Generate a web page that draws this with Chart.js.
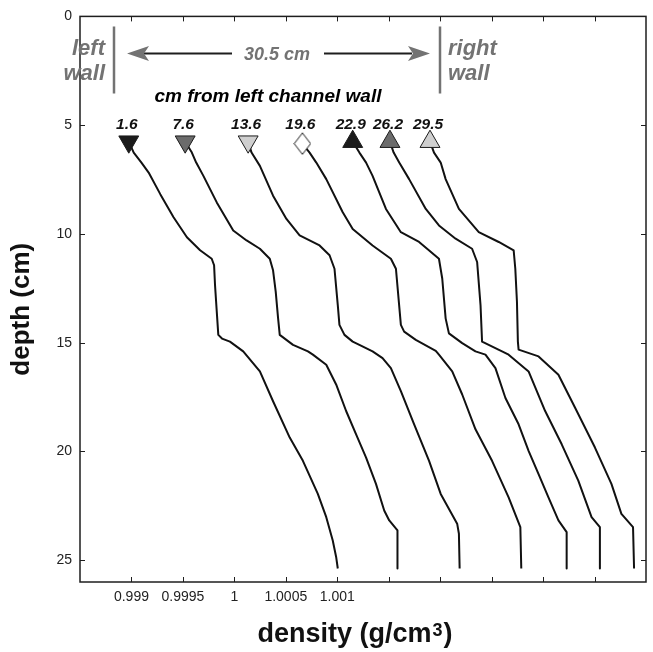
<!DOCTYPE html>
<html>
<head>
<meta charset="utf-8">
<title>density profiles</title>
<script src="https://cdn.jsdelivr.net/npm/chart.js"></script>
<style>
  html, body { margin: 0; padding: 0; background: #fff; }
  canvas { display: block; }
</style>
</head>
<body>
<canvas id="profiles" width="653" height="652"></canvas>
<script>
// distance of each profile from the left channel wall (cm)
const stations = ['1.6', '7.6', '13.6', '19.6', '22.9', '26.2', '29.5'];

// density (g/cm3) vs depth (cm), one pair of arrays per profile
const rho_1_6 = [0.998974, 0.999022, 0.999097, 0.999167, 0.999280, 0.999409, 0.999539, 0.999667, 0.999780, 0.999803, 0.999812, 0.999829, 0.999844, 0.999880, 0.999957, 1.000086, 1.000248, 1.000376, 1.000538, 1.000666, 1.000811, 1.000893, 1.000956, 1.000989, 1.001005];
const depth_1_6 = [5.76, 6.26, 6.72, 7.18, 8.17, 9.23, 10.15, 10.75, 11.14, 11.44, 12.35, 13.57, 14.64, 14.81, 14.95, 15.40, 16.32, 17.69, 19.36, 20.43, 21.95, 23.02, 24.09, 24.85, 25.38];

const rho_7_6 = [0.999522, 0.999587, 0.999629, 0.999699, 0.999829, 0.999989, 1.000119, 1.000248, 1.000344, 1.000376, 1.000402, 1.000425, 1.000441, 1.000570, 1.000715, 1.000763, 1.000893, 1.000989, 1.001086, 1.001183, 1.001280, 1.001376, 1.001456, 1.001505, 1.001585, 1.001585];
const depth_7_6 = [5.76, 6.26, 6.72, 7.33, 8.55, 9.84, 10.30, 10.68, 11.14, 11.67, 12.66, 13.88, 14.64, 15.10, 15.40, 15.55, 16.01, 16.92, 18.14, 19.21, 20.28, 21.49, 22.71, 23.17, 23.63, 25.38];

const rho_13_6 = [1.000134, 1.000167, 1.000248, 1.000376, 1.000506, 1.000634, 1.000828, 1.000925, 1.000973, 1.001005, 1.001021, 1.001070, 1.001150, 1.001215, 1.001343, 1.001440, 1.001521, 1.001618, 1.001747, 1.001892, 1.002005, 1.002165, 1.002182, 1.002189];
const depth_13_6 = [5.76, 6.26, 6.87, 8.24, 9.31, 10.07, 10.53, 10.98, 11.60, 13.27, 14.18, 14.64, 14.95, 15.10, 15.40, 15.71, 16.17, 17.23, 18.75, 20.43, 21.95, 23.32, 23.78, 25.38];

const rho_19_6 = [1.000661, 1.000731, 1.000796, 1.000893, 1.001053, 1.001150, 1.001343, 1.001521, 1.001570, 1.001618, 1.001650, 1.001763, 1.001957, 1.001988, 1.002117, 1.002214, 1.002343, 1.002504, 1.002665, 1.002779, 1.002788];
const depth_19_6 = [5.85, 6.26, 6.72, 7.48, 9.00, 9.77, 10.53, 11.14, 11.60, 14.18, 14.49, 14.87, 15.37, 15.55, 16.32, 17.38, 18.98, 20.43, 22.11, 23.48, 25.38];

const rho_22_9 = [1.001150, 1.001215, 1.001280, 1.001343, 1.001473, 1.001618, 1.001795, 1.001988, 1.002020, 1.002053, 1.002085, 1.002214, 1.002343, 1.002440, 1.002537, 1.002634, 1.002762, 1.002859, 1.002956, 1.003052, 1.003149, 1.003229, 1.003229];
const depth_22_9 = [5.76, 6.26, 6.72, 7.33, 8.85, 9.92, 10.37, 11.14, 12.05, 13.88, 14.57, 15.02, 15.40, 15.55, 16.17, 17.54, 18.75, 19.97, 21.04, 22.11, 23.17, 23.71, 25.38];

const rho_26_2 = [1.001512, 1.001548, 1.001602, 1.001698, 1.001860, 1.001988, 1.002150, 1.002310, 1.002359, 1.002392, 1.002407, 1.002601, 1.002665, 1.002859, 1.003020, 1.003181, 1.003342, 1.003471, 1.003552, 1.003552];
const depth_26_2 = [5.76, 6.26, 6.72, 7.48, 8.85, 9.61, 10.22, 10.68, 11.29, 13.27, 14.95, 15.40, 15.55, 16.32, 18.14, 19.67, 21.34, 23.02, 23.48, 25.38];

const rho_29_5 = [1.001901, 1.001940, 1.002005, 1.002053, 1.002182, 1.002375, 1.002569, 1.002714, 1.002730, 1.002746, 1.002755, 1.002762, 1.002956, 1.003149, 1.003311, 1.003504, 1.003664, 1.003761, 1.003874, 1.003884];
const depth_29_5 = [5.76, 6.26, 6.72, 7.48, 8.85, 9.92, 10.37, 10.75, 11.60, 13.12, 14.95, 15.32, 15.63, 16.47, 17.99, 19.82, 21.49, 22.87, 23.48, 25.38];

// axis ticks
const xTicks = [0.999, 0.9995, 1, 1.0005, 1.001];
const yTicks = [0, 5, 10, 15, 20, 25];

const profiles = [
  [rho_1_6, depth_1_6], [rho_7_6, depth_7_6], [rho_13_6, depth_13_6], [rho_19_6, depth_19_6],
  [rho_22_9, depth_22_9], [rho_26_2, depth_26_2], [rho_29_5, depth_29_5]
];

const FONT = "'Liberation Sans', Arial, Helvetica, sans-serif";
const GREY = '#737373';
const markerFill = ['#1b1b1b', '#6b6b6b', '#cfcfcf', '#ffffff', '#1b1b1b', '#6b6b6b', '#cfcfcf'];

// tall open diamond for the middle profile
const diamond = document.createElement('canvas');
diamond.width = 18; diamond.height = 23;
(function () {
  const d = diamond.getContext('2d');
  d.beginPath();
  d.moveTo(9, 0.8); d.lineTo(17.2, 11.5); d.lineTo(9, 22.2); d.lineTo(0.8, 11.5);
  d.closePath();
  d.fillStyle = '#fff'; d.fill();
  d.strokeStyle = '#1b1b1b'; d.lineWidth = 1; d.stroke();
})();

function arrowHead(ctx, tipX, yy, dir) {
  // barbed head, dir -1 points left, +1 points right
  ctx.beginPath();
  ctx.moveTo(tipX, yy);
  ctx.lineTo(tipX - dir * 22, yy - 7.5);
  ctx.lineTo(tipX - dir * 17, yy);
  ctx.lineTo(tipX - dir * 22, yy + 7.5);
  ctx.closePath();
  ctx.fill();
}

const decorations = {
  id: 'decorations',
  afterDraw(chart) {
    const { ctx, chartArea: a, scales: { x, y } } = chart;
    ctx.save();

    // box round the plot
    ctx.strokeStyle = '#1e1e1e';
    ctx.lineWidth = 1.5;
    ctx.strokeRect(a.left, a.top, a.right - a.left, a.bottom - a.top);

    // inward ticks on every side
    ctx.lineWidth = 1;
    ctx.beginPath();
    x.ticks.forEach(t => {
      if (t.value <= x.min + 1e-9 || t.value >= x.max - 1e-9) return;
      const px = Math.round(x.getPixelForValue(t.value)) + 0.5;
      ctx.moveTo(px, a.bottom); ctx.lineTo(px, a.bottom - 5);
      ctx.moveTo(px, a.top); ctx.lineTo(px, a.top + 5);
    });
    y.ticks.forEach(t => {
      if (t.value <= y.min || t.value >= y.max) return;
      const py = Math.round(y.getPixelForValue(t.value)) + 0.5;
      ctx.moveTo(a.left, py); ctx.lineTo(a.left + 5, py);
      ctx.moveTo(a.right, py); ctx.lineTo(a.right - 5, py);
    });
    ctx.stroke();

    // channel walls
    const top = a.top;
    const wallL = a.left + 34, wallR = a.left + 360;
    ctx.strokeStyle = GREY;
    ctx.lineWidth = 2.5;
    ctx.beginPath();
    ctx.moveTo(wallL, top + 10); ctx.lineTo(wallL, top + 77);
    ctx.moveTo(wallR, top + 10); ctx.lineTo(wallR, top + 77);
    ctx.stroke();

    ctx.fillStyle = GREY;
    ctx.font = 'italic bold 22px ' + FONT;
    ctx.textBaseline = 'alphabetic';
    ctx.textAlign = 'right';
    ctx.fillText('left', wallL - 9, top + 39);
    ctx.fillText('wall', wallL - 9, top + 64);
    ctx.textAlign = 'left';
    ctx.fillText('right', wallR + 8, top + 39);
    ctx.fillText('wall', wallR + 8, top + 64);

    // width arrow
    const ay = top + 37;
    ctx.strokeStyle = '#1e1e1e';
    ctx.lineWidth = 2;
    ctx.beginPath();
    ctx.moveTo(wallL + 28, ay); ctx.lineTo(a.left + 152, ay);
    ctx.moveTo(a.left + 244, ay); ctx.lineTo(wallR - 28, ay);
    ctx.stroke();
    ctx.fillStyle = GREY;
    arrowHead(ctx, wallL + 13, ay, -1);
    arrowHead(ctx, wallR - 10, ay, 1);
    ctx.font = 'italic bold 18px ' + FONT;
    ctx.textAlign = 'center';
    ctx.fillText('30.5 cm', a.left + 197, ay + 6.5);

    ctx.fillStyle = '#000';
    ctx.font = 'italic bold 19px ' + FONT;
    ctx.fillText('cm from left channel wall', a.left + 188, top + 86);

    // station labels above the markers
    ctx.fillStyle = '#111';
    ctx.font = 'italic bold 15.5px ' + FONT;
    ctx.textBaseline = 'middle';
    stations.forEach((s, i) => {
      const p = chart.getDatasetMeta(i).data[0];
      ctx.fillText(s, p.x - 2, top + 108);
    });

    // axis titles
    ctx.fillStyle = '#111';
    ctx.textBaseline = 'alphabetic';
    ctx.font = 'bold 26px ' + FONT;
    ctx.save();
    ctx.translate(29, (a.top + a.bottom) / 2 + 10);
    ctx.rotate(-Math.PI / 2);
    ctx.textAlign = 'center';
    ctx.fillText('depth (cm)', 0, 0);
    ctx.restore();

    const main = 'density (g/cm', sup = '3', close = ')';
    ctx.font = 'bold 27px ' + FONT;
    const w1 = ctx.measureText(main).width, w3 = ctx.measureText(close).width;
    ctx.font = 'bold 18px ' + FONT;
    const w2 = ctx.measureText(sup).width;
    let tx = (a.left + a.right) / 2 - 8 - (w1 + w2 + w3 + 2) / 2;
    const ty = 642;
    ctx.textAlign = 'left';
    ctx.font = 'bold 27px ' + FONT;
    ctx.fillText(main, tx, ty);
    tx += w1 + 1;
    ctx.font = 'bold 18px ' + FONT;
    ctx.fillText(sup, tx, ty - 6);
    tx += w2 + 1;
    ctx.font = 'bold 27px ' + FONT;
    ctx.fillText(close, tx, ty);

    ctx.restore();
  }
};

new Chart(document.getElementById('profiles'), {
  type: 'scatter',
  data: {
    datasets: profiles.map(([rho, depth], i) => ({
      label: stations[i] + ' cm',
      data: rho.map((r, k) => ({ x: r, y: depth[k] })),
      showLine: true,
      borderColor: '#111',
      borderWidth: 2,
      borderJoinStyle: 'round',
      pointRadius: rho.map((_, k) => (k === 0 ? 11.5 : 0)),
      pointStyle: i === 3 ? diamond : 'triangle',
      pointRotation: i < 3 ? 180 : 0,
      pointBackgroundColor: markerFill[i],
      pointBorderColor: '#1b1b1b',
      pointBorderWidth: 1,
      clip: false
    }))
  },
  options: {
    responsive: false,
    devicePixelRatio: 1,
    animation: false,
    events: [],
    // markers must not push the plot edges inwards
    layout: { autoPadding: false, padding: { top: 13, right: 4, left: 0, bottom: 0 } },
    plugins: { legend: { display: false }, tooltip: { enabled: false } },
    scales: {
      x: {
        type: 'linear',
        position: 'bottom',
        min: 0.9985,
        max: 1.004,
        afterFit: s => { s.height = 70; },
        grid: { display: false, drawTicks: false },
        border: { display: false },
        ticks: {
          stepSize: 0.0005,
          autoSkip: false,
          maxRotation: 0,
          padding: 7,
          color: '#222',
          font: { family: FONT, size: 14 },
          callback: v => {
            const hit = xTicks.find(t => Math.abs(t - v) < 1e-7);
            return hit === undefined ? '' : String(hit);
          }
        }
      },
      y: {
        type: 'linear',
        reverse: true,
        min: 0,
        max: 26,
        afterFit: s => { s.width = 80; },
        grid: { display: false, drawTicks: false },
        border: { display: false },
        ticks: {
          stepSize: 5,
          padding: 8,
          color: '#222',
          font: { family: FONT, size: 14 },
          callback: v => (yTicks.includes(v) ? String(v) : '')
        }
      }
    }
  },
  plugins: [decorations]
});
</script>
</body>
</html>
